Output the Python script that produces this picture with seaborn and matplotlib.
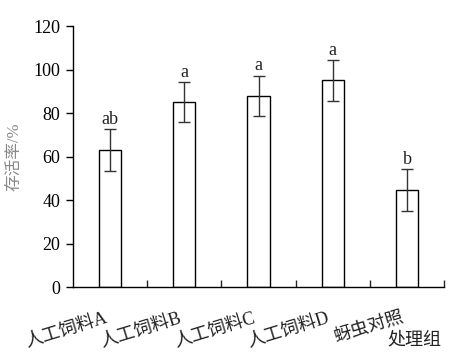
import matplotlib
matplotlib.use("Agg")
import matplotlib.pyplot as plt
import matplotlib.transforms as mtrans
import seaborn as sns
import pandas as pd
import numpy as np

categories = ["人工饲料A", "人工饲料B", "人工饲料C", "人工饲料D", "蚜虫对照"]
survival = [63, 85, 88, 95, 44.5]
errors = [9.5, 9.2, 9.2, 9.3, 9.7]
letters = ["ab", "a", "a", "a", "b"]
y_ticks = [0, 20, 40, 60, 80, 100, 120]

sns.set_style("ticks")
plt.rcParams['font.family'] = ['Liberation Serif', 'Noto Sans CJK SC']

df = pd.DataFrame({"cat": categories, "val": survival})

fig = plt.figure(figsize=(4.52, 3.57), dpi=100)
ax = fig.add_axes([0.1615, 0.196, 0.821, 0.731])

sns.barplot(data=df, x="cat", y="val", ax=ax, color="white", edgecolor="black",
            linewidth=1.0, width=0.3, errorbar=None)
x = np.arange(len(categories))
ax.errorbar(x, survival, yerr=errors, fmt="none", ecolor="#333333",
            elinewidth=1.0, capsize=4.3, capthick=1.0)
for xi, v, e, l in zip(x, survival, errors, letters):
    ax.text(xi, v + e + 0.6, l, ha="center", va="bottom", fontsize=13, color="#222222")

ax.set_xlim(-0.5, 4.5)
ax.set_ylim(0, 120)
ax.set_yticks(y_ticks)
ax.tick_params(axis="y", direction="out", length=5, width=1, labelsize=13,
               colors="black", pad=4)
ax.set_xticks(x)
ax.set_xticklabels(categories, rotation=17, ha="right", rotation_mode="anchor",
                   fontsize=13, color="#222222")
ax.tick_params(axis="x", which="major", length=0, pad=16)
offset = mtrans.ScaledTranslation(-6 / 100, 0, fig.dpi_scale_trans)
for lab in ax.get_xticklabels():
    lab.set_transform(lab.get_transform() + offset)
ax.set_xticks(np.arange(0.5, 5, 1), minor=True)
ax.tick_params(axis="x", which="minor", direction="in", length=5, width=1)
ax.text(4.1, -24.5, "处理组", ha="center", va="center", fontsize=13, color="#222222")

ax.set_xlabel("")
ax.set_ylabel("存活率/%", fontsize=12, color="#888888", labelpad=8)
for s in ["top", "right"]:
    ax.spines[s].set_visible(False)
for s in ["left", "bottom"]:
    ax.spines[s].set_linewidth(1.0)
    ax.spines[s].set_color("black")

fig.savefig("out.png", dpi=100)
